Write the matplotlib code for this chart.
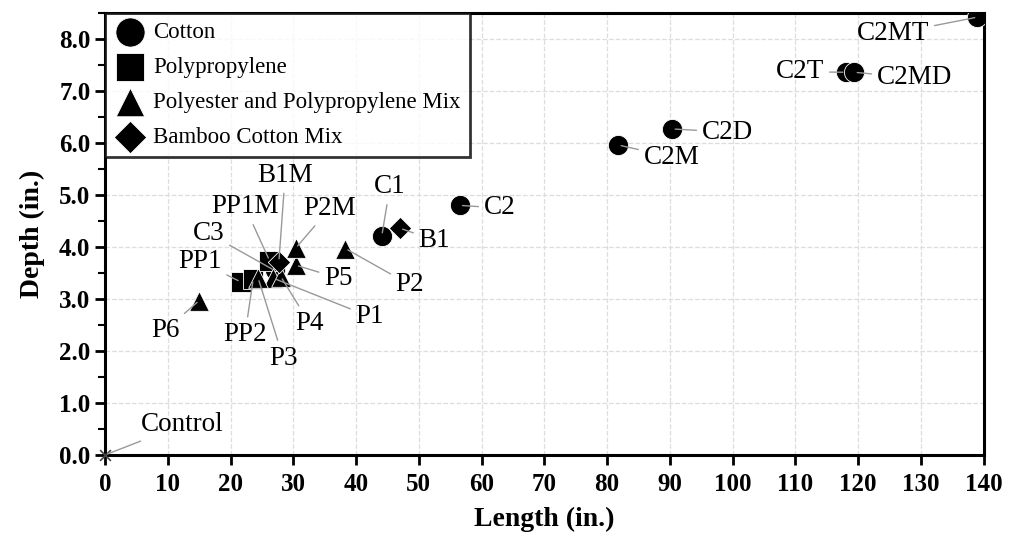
import matplotlib
matplotlib.use("Agg")
import matplotlib.pyplot as plt
from matplotlib.ticker import MultipleLocator

plt.rcParams['font.family'] = ['Liberation Serif', 'DejaVu Serif']

# data: (name, length, depth, label x, label y)
cotton = [
    ("C1", 44.1, 4.22, 45.4, 5.16),
    ("C2", 56.5, 4.80, 62.9, 4.75),
    ("C3", 27.0, 3.55, 16.5, 4.26),
    ("C2M", 81.8, 5.96, 90.3, 5.73),
    ("C2D", 90.4, 6.27, 99.2, 6.21),
    ("C2T", 118.0, 7.36, 110.7, 7.37),
    ("C2MD", 119.4, 7.36, 129.0, 7.25),
    ("C2MT", 139.0, 8.42, 125.5, 8.10),
]
polypropylene = [
    ("PP1", 21.6, 3.33, 15.1, 3.72),
    ("PP2", 23.6, 3.38, 22.3, 2.31),
    ("PP1M", 26.2, 3.74, 22.3, 4.77),
]
poly_mix = [
    ("P1", 26.8, 3.40, 42.2, 2.66),
    ("P2", 38.3, 3.97, 48.6, 3.27),
    ("P3", 24.4, 3.40, 28.4, 1.86),
    ("P4", 28.0, 3.43, 32.6, 2.53),
    ("P5", 30.4, 3.65, 37.2, 3.40),
    ("P6", 15.0, 2.97, 9.6, 2.40),
    ("P2M", 30.4, 3.98, 35.8, 4.74),
]
bamboo = [
    ("B1", 47.0, 4.36, 52.5, 4.13),
    ("B1M", 27.7, 3.72, 28.7, 5.38),
]
control = [("Control", 0.0, 0.0, 12.3, 0.58)]

groups = [
    ("Cotton", cotton, "o", 210),
    ("Polypropylene", polypropylene, "s", 190),
    ("Polyester and Polypropylene Mix", poly_mix, "^", 200),
    ("Bamboo Cotton Mix", bamboo, "D", 130),
]

fig = plt.figure(figsize=(10.10, 5.41), dpi=100)
ax = fig.add_axes([0.104, 0.159, 0.870, 0.817])

for name, pts, mk, s in groups:
    ax.scatter([p[1] for p in pts], [p[2] for p in pts], marker=mk, s=s,
               color="black", edgecolors="white", linewidths=0.6, zorder=3, label=name)

ax.scatter([p[1] for p in control], [p[2] for p in control], marker="x", s=60,
           color="#444444", linewidths=1.2, zorder=3, clip_on=False)

for name, pts, mk, s in groups + [("Control", control, "x", 0)]:
    for lab, x, y, tx, ty in pts:
        ax.annotate(lab, xy=(x, y), xytext=(tx, ty), fontsize=19.5,
                    ha="center", va="center", zorder=4,
                    arrowprops=dict(arrowstyle="-", color="#999999", lw=1.0,
                                    shrinkA=2, shrinkB=2))

ax.set_xlim(0, 140)
ax.set_ylim(0, 8.5)
ax.xaxis.set_major_locator(MultipleLocator(10))
ax.yaxis.set_minor_locator(MultipleLocator(0.5))
ax.set_yticks([0, 1, 2, 3, 4, 5, 6, 7, 8])
ax.set_yticklabels([f"{v:.1f}" for v in [0, 1, 2, 3, 4, 5, 6, 7, 8]])
ax.grid(True, which="major", color="#dddddd", linestyle="--", linewidth=0.9)
ax.set_axisbelow(True)

for sp in ax.spines.values():
    sp.set_linewidth(2.2)
    sp.set_color("black")

ax.tick_params(axis="both", which="major", direction="out", length=7, width=2,
               labelsize=18)
ax.tick_params(axis="x", which="major", pad=6)
ax.tick_params(axis="y", which="minor", direction="out", length=5, width=1.5)
for t in ax.get_xticklabels() + ax.get_yticklabels():
    t.set_fontweight("bold")

ax.set_xlabel("Length (in.)", fontsize=20, fontweight="bold", labelpad=8)
ax.set_ylabel("Depth (in.)", fontsize=20, fontweight="bold", labelpad=10)

leg = ax.legend(loc="upper left", fontsize=16.5, markerscale=1.45, frameon=True,
                fancybox=False, borderaxespad=0.0, handletextpad=0.3,
                labelspacing=0.6, borderpad=0.4, handlelength=1.4)
leg.get_frame().set_edgecolor("black")
leg.get_frame().set_linewidth(2)
leg.set_zorder(5)

fig.savefig("out.png", dpi=100)
